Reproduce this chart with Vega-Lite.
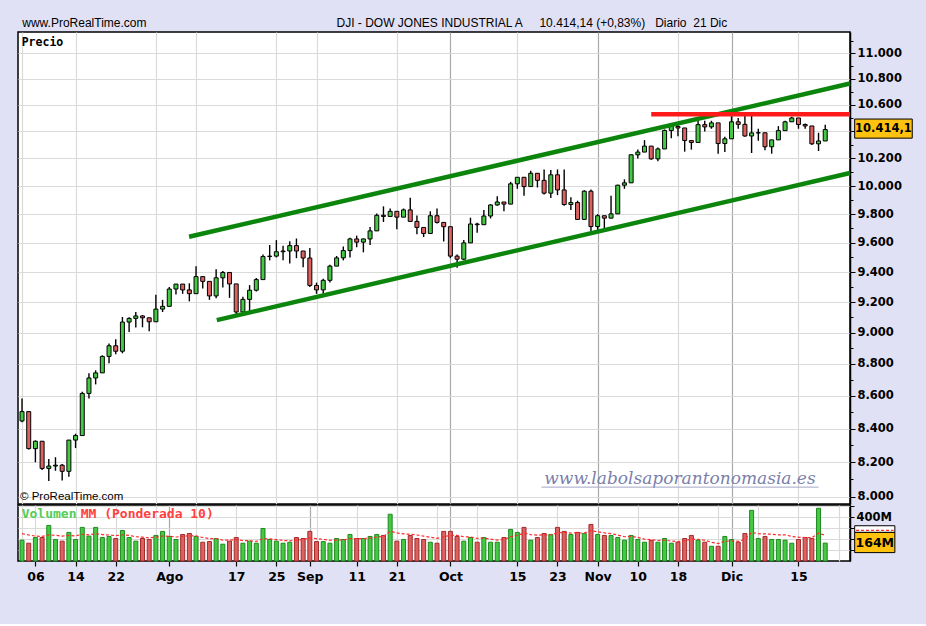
{
  "$schema": "https://vega.github.io/schema/vega-lite/v6.json",
  "background": "#e1e1f5",
  "padding": {"left": 17, "top": 17, "right": 14, "bottom": 40},
  "title": {
    "text": "www.ProRealTime.com\u00a0\u00a0\u00a0\u00a0\u00a0\u00a0\u00a0\u00a0\u00a0\u00a0\u00a0\u00a0\u00a0\u00a0\u00a0\u00a0\u00a0\u00a0\u00a0\u00a0\u00a0\u00a0\u00a0\u00a0\u00a0\u00a0\u00a0\u00a0\u00a0\u00a0\u00a0\u00a0\u00a0\u00a0\u00a0\u00a0\u00a0\u00a0\u00a0\u00a0\u00a0\u00a0\u00a0\u00a0\u00a0\u00a0\u00a0\u00a0\u00a0\u00a0\u00a0\u00a0\u00a0\u00a0\u00a0\u00a0\u00a0DJI - DOW JONES INDUSTRIAL A\u00a0\u00a0\u00a0\u00a0\u00a010.414,14 (+0,83%)\u00a0\u00a0\u00a0Diario\u00a0\u00a021 Dic",
    "anchor": "start",
    "dx": 5,
    "offset": 1,
    "font": "Liberation Sans",
    "fontSize": 12,
    "fontWeight": "normal",
    "color": "black"
  },
  "config": {
    "view": {"fill": "white", "stroke": "black", "strokeWidth": 1.5},
    "axis": {"labelOverlap": false, "labelFlush": false, "title": null}
  },
  "datasets": {
    "dji": [
      {"i":0,"d":"2009-07-01","o":8447,"h":8585,"l":8440,"c":8504,"v":191,"ma":250},
      {"i":1,"d":"2009-07-02","o":8504,"h":8504,"l":8275,"c":8281,"v":163,"ma":238},
      {"i":2,"d":"2009-07-06","o":8281,"h":8330,"l":8200,"c":8325,"v":215,"ma":228},
      {"i":3,"d":"2009-07-07","o":8325,"h":8325,"l":8155,"c":8164,"v":215,"ma":225},
      {"i":4,"d":"2009-07-08","o":8164,"h":8220,"l":8090,"c":8178,"v":326,"ma":240},
      {"i":5,"d":"2009-07-09","o":8178,"h":8230,"l":8150,"c":8183,"v":197,"ma":235},
      {"i":6,"d":"2009-07-10","o":8183,"h":8190,"l":8093,"c":8147,"v":182,"ma":228},
      {"i":7,"d":"2009-07-13","o":8147,"h":8332,"l":8115,"c":8332,"v":262,"ma":235},
      {"i":8,"d":"2009-07-14","o":8332,"h":8370,"l":8284,"c":8359,"v":197,"ma":230},
      {"i":9,"d":"2009-07-15","o":8359,"h":8626,"l":8359,"c":8616,"v":308,"ma":245},
      {"i":10,"d":"2009-07-16","o":8616,"h":8741,"l":8585,"c":8712,"v":228,"ma":240},
      {"i":11,"d":"2009-07-17","o":8712,"h":8760,"l":8672,"c":8744,"v":308,"ma":250},
      {"i":12,"d":"2009-07-20","o":8744,"h":8855,"l":8744,"c":8848,"v":215,"ma":242},
      {"i":13,"d":"2009-07-21","o":8848,"h":8930,"l":8805,"c":8916,"v":225,"ma":238},
      {"i":14,"d":"2009-07-22","o":8916,"h":8957,"l":8862,"c":8881,"v":206,"ma":232},
      {"i":15,"d":"2009-07-23","o":8881,"h":9102,"l":8868,"c":9069,"v":280,"ma":240},
      {"i":16,"d":"2009-07-24","o":9069,"h":9100,"l":9004,"c":9093,"v":215,"ma":235},
      {"i":17,"d":"2009-07-27","o":9093,"h":9135,"l":9033,"c":9109,"v":182,"ma":222},
      {"i":18,"d":"2009-07-28","o":9109,"h":9115,"l":9035,"c":9097,"v":206,"ma":218},
      {"i":19,"d":"2009-07-29","o":9097,"h":9097,"l":9010,"c":9071,"v":197,"ma":212},
      {"i":20,"d":"2009-07-30","o":9071,"h":9248,"l":9071,"c":9154,"v":234,"ma":218},
      {"i":21,"d":"2009-07-31","o":9154,"h":9215,"l":9135,"c":9172,"v":271,"ma":228},
      {"i":22,"d":"2009-08-03","o":9172,"h":9300,"l":9172,"c":9287,"v":225,"ma":226},
      {"i":23,"d":"2009-08-04","o":9287,"h":9320,"l":9250,"c":9320,"v":197,"ma":220},
      {"i":24,"d":"2009-08-05","o":9320,"h":9320,"l":9255,"c":9281,"v":243,"ma":226},
      {"i":25,"d":"2009-08-06","o":9281,"h":9325,"l":9205,"c":9256,"v":252,"ma":232},
      {"i":26,"d":"2009-08-07","o":9256,"h":9440,"l":9256,"c":9370,"v":225,"ma":230},
      {"i":27,"d":"2009-08-10","o":9370,"h":9370,"l":9290,"c":9338,"v":172,"ma":215},
      {"i":28,"d":"2009-08-11","o":9338,"h":9338,"l":9215,"c":9241,"v":178,"ma":205},
      {"i":29,"d":"2009-08-12","o":9241,"h":9420,"l":9225,"c":9362,"v":206,"ma":205},
      {"i":30,"d":"2009-08-13","o":9362,"h":9408,"l":9297,"c":9398,"v":154,"ma":192},
      {"i":31,"d":"2009-08-14","o":9398,"h":9398,"l":9228,"c":9321,"v":182,"ma":190},
      {"i":32,"d":"2009-08-17","o":9321,"h":9321,"l":9120,"c":9135,"v":215,"ma":196},
      {"i":33,"d":"2009-08-18","o":9135,"h":9235,"l":9135,"c":9218,"v":163,"ma":188},
      {"i":34,"d":"2009-08-19","o":9218,"h":9313,"l":9140,"c":9279,"v":182,"ma":186},
      {"i":35,"d":"2009-08-20","o":9279,"h":9360,"l":9270,"c":9350,"v":163,"ma":180},
      {"i":36,"d":"2009-08-21","o":9350,"h":9520,"l":9350,"c":9506,"v":298,"ma":205},
      {"i":37,"d":"2009-08-24","o":9506,"h":9585,"l":9480,"c":9509,"v":197,"ma":202},
      {"i":38,"d":"2009-08-25","o":9509,"h":9619,"l":9500,"c":9539,"v":182,"ma":196},
      {"i":39,"d":"2009-08-26","o":9539,"h":9580,"l":9480,"c":9544,"v":163,"ma":188},
      {"i":40,"d":"2009-08-27","o":9544,"h":9611,"l":9459,"c":9581,"v":172,"ma":185},
      {"i":41,"d":"2009-08-28","o":9581,"h":9630,"l":9495,"c":9544,"v":215,"ma":192},
      {"i":42,"d":"2009-08-31","o":9544,"h":9544,"l":9433,"c":9496,"v":206,"ma":195},
      {"i":43,"d":"2009-09-01","o":9496,"h":9565,"l":9300,"c":9311,"v":271,"ma":212},
      {"i":44,"d":"2009-09-02","o":9311,"h":9330,"l":9255,"c":9281,"v":178,"ma":205},
      {"i":45,"d":"2009-09-03","o":9281,"h":9355,"l":9255,"c":9345,"v":178,"ma":198},
      {"i":46,"d":"2009-09-04","o":9345,"h":9450,"l":9330,"c":9441,"v":163,"ma":190},
      {"i":47,"d":"2009-09-08","o":9441,"h":9510,"l":9441,"c":9497,"v":206,"ma":192},
      {"i":48,"d":"2009-09-09","o":9497,"h":9575,"l":9480,"c":9547,"v":197,"ma":193},
      {"i":49,"d":"2009-09-10","o":9547,"h":9635,"l":9500,"c":9627,"v":243,"ma":205},
      {"i":50,"d":"2009-09-11","o":9627,"h":9650,"l":9570,"c":9605,"v":206,"ma":205},
      {"i":51,"d":"2009-09-14","o":9605,"h":9630,"l":9535,"c":9627,"v":206,"ma":205},
      {"i":52,"d":"2009-09-15","o":9627,"h":9710,"l":9585,"c":9683,"v":225,"ma":210},
      {"i":53,"d":"2009-09-16","o":9683,"h":9805,"l":9683,"c":9792,"v":243,"ma":220},
      {"i":54,"d":"2009-09-17","o":9792,"h":9855,"l":9745,"c":9784,"v":234,"ma":224},
      {"i":55,"d":"2009-09-18","o":9784,"h":9840,"l":9784,"c":9820,"v":428,"ma":272},
      {"i":56,"d":"2009-09-21","o":9820,"h":9820,"l":9695,"c":9779,"v":182,"ma":258},
      {"i":57,"d":"2009-09-22","o":9779,"h":9840,"l":9779,"c":9830,"v":197,"ma":248},
      {"i":58,"d":"2009-09-23","o":9830,"h":9917,"l":9745,"c":9749,"v":234,"ma":246},
      {"i":59,"d":"2009-09-24","o":9749,"h":9790,"l":9660,"c":9707,"v":206,"ma":238},
      {"i":60,"d":"2009-09-25","o":9707,"h":9707,"l":9640,"c":9665,"v":197,"ma":228},
      {"i":61,"d":"2009-09-28","o":9665,"h":9820,"l":9665,"c":9789,"v":172,"ma":218},
      {"i":62,"d":"2009-09-29","o":9789,"h":9840,"l":9735,"c":9742,"v":163,"ma":208},
      {"i":63,"d":"2009-09-30","o":9742,"h":9742,"l":9609,"c":9712,"v":271,"ma":222},
      {"i":64,"d":"2009-10-01","o":9712,"h":9712,"l":9495,"c":9509,"v":271,"ma":236},
      {"i":65,"d":"2009-10-02","o":9509,"h":9520,"l":9430,"c":9488,"v":225,"ma":234},
      {"i":66,"d":"2009-10-05","o":9488,"h":9620,"l":9480,"c":9600,"v":182,"ma":222},
      {"i":67,"d":"2009-10-06","o":9600,"h":9775,"l":9600,"c":9731,"v":215,"ma":220},
      {"i":68,"d":"2009-10-07","o":9731,"h":9740,"l":9670,"c":9726,"v":172,"ma":208},
      {"i":69,"d":"2009-10-08","o":9726,"h":9830,"l":9726,"c":9787,"v":215,"ma":210},
      {"i":70,"d":"2009-10-09","o":9787,"h":9870,"l":9770,"c":9865,"v":172,"ma":200},
      {"i":71,"d":"2009-10-12","o":9865,"h":9927,"l":9860,"c":9886,"v":172,"ma":192},
      {"i":72,"d":"2009-10-13","o":9886,"h":9886,"l":9820,"c":9871,"v":215,"ma":198},
      {"i":73,"d":"2009-10-14","o":9871,"h":10030,"l":9871,"c":10016,"v":289,"ma":222},
      {"i":74,"d":"2009-10-15","o":10016,"h":10063,"l":9980,"c":10063,"v":262,"ma":234},
      {"i":75,"d":"2009-10-16","o":10063,"h":10063,"l":9930,"c":9996,"v":308,"ma":256},
      {"i":76,"d":"2009-10-19","o":9996,"h":10110,"l":9996,"c":10092,"v":191,"ma":242},
      {"i":77,"d":"2009-10-20","o":10092,"h":10092,"l":9990,"c":10041,"v":215,"ma":236},
      {"i":78,"d":"2009-10-21","o":10041,"h":10120,"l":9940,"c":9949,"v":252,"ma":240},
      {"i":79,"d":"2009-10-22","o":9949,"h":10115,"l":9915,"c":10081,"v":243,"ma":240},
      {"i":80,"d":"2009-10-23","o":10081,"h":10120,"l":9935,"c":9972,"v":308,"ma":258},
      {"i":81,"d":"2009-10-26","o":9972,"h":10120,"l":9860,"c":9868,"v":271,"ma":262},
      {"i":82,"d":"2009-10-27","o":9868,"h":9920,"l":9830,"c":9882,"v":243,"ma":256},
      {"i":83,"d":"2009-10-28","o":9882,"h":9895,"l":9763,"c":9763,"v":262,"ma":258},
      {"i":84,"d":"2009-10-29","o":9763,"h":9970,"l":9763,"c":9963,"v":252,"ma":256},
      {"i":85,"d":"2009-10-30","o":9963,"h":9975,"l":9680,"c":9713,"v":335,"ma":278},
      {"i":86,"d":"2009-11-02","o":9713,"h":9800,"l":9680,"c":9789,"v":243,"ma":268},
      {"i":87,"d":"2009-11-03","o":9789,"h":9789,"l":9700,"c":9772,"v":234,"ma":258},
      {"i":88,"d":"2009-11-04","o":9772,"h":9930,"l":9772,"c":9802,"v":234,"ma":250},
      {"i":89,"d":"2009-11-05","o":9802,"h":10010,"l":9802,"c":10006,"v":215,"ma":238},
      {"i":90,"d":"2009-11-06","o":10006,"h":10048,"l":9980,"c":10023,"v":191,"ma":222},
      {"i":91,"d":"2009-11-09","o":10023,"h":10230,"l":10023,"c":10227,"v":234,"ma":226},
      {"i":92,"d":"2009-11-10","o":10227,"h":10265,"l":10200,"c":10247,"v":197,"ma":216},
      {"i":93,"d":"2009-11-11","o":10247,"h":10335,"l":10247,"c":10291,"v":172,"ma":200},
      {"i":94,"d":"2009-11-12","o":10291,"h":10291,"l":10190,"c":10197,"v":188,"ma":196},
      {"i":95,"d":"2009-11-13","o":10197,"h":10280,"l":10180,"c":10270,"v":172,"ma":188},
      {"i":96,"d":"2009-11-16","o":10270,"h":10415,"l":10270,"c":10407,"v":206,"ma":192},
      {"i":97,"d":"2009-11-17","o":10407,"h":10460,"l":10350,"c":10437,"v":163,"ma":182},
      {"i":98,"d":"2009-11-18","o":10437,"h":10450,"l":10365,"c":10426,"v":172,"ma":178},
      {"i":99,"d":"2009-11-19","o":10426,"h":10426,"l":10250,"c":10332,"v":206,"ma":186},
      {"i":100,"d":"2009-11-20","o":10332,"h":10332,"l":10265,"c":10318,"v":234,"ma":200},
      {"i":101,"d":"2009-11-23","o":10318,"h":10480,"l":10318,"c":10451,"v":191,"ma":198},
      {"i":102,"d":"2009-11-24","o":10451,"h":10480,"l":10400,"c":10434,"v":172,"ma":190},
      {"i":103,"d":"2009-11-25","o":10434,"h":10480,"l":10420,"c":10464,"v":135,"ma":172},
      {"i":104,"d":"2009-11-27","o":10464,"h":10464,"l":10235,"c":10310,"v":135,"ma":160},
      {"i":105,"d":"2009-11-30","o":10310,"h":10360,"l":10248,"c":10345,"v":225,"ma":180},
      {"i":106,"d":"2009-12-01","o":10345,"h":10515,"l":10345,"c":10472,"v":197,"ma":185},
      {"i":107,"d":"2009-12-02","o":10472,"h":10500,"l":10420,"c":10453,"v":172,"ma":180},
      {"i":108,"d":"2009-12-03","o":10453,"h":10520,"l":10360,"c":10366,"v":252,"ma":198},
      {"i":109,"d":"2009-12-04","o":10366,"h":10520,"l":10240,"c":10389,"v":464,"ma":262},
      {"i":110,"d":"2009-12-07","o":10389,"h":10420,"l":10330,"c":10390,"v":206,"ma":250},
      {"i":111,"d":"2009-12-08","o":10390,"h":10390,"l":10260,"c":10286,"v":225,"ma":248},
      {"i":112,"d":"2009-12-09","o":10286,"h":10337,"l":10235,"c":10337,"v":197,"ma":245},
      {"i":113,"d":"2009-12-10","o":10337,"h":10440,"l":10337,"c":10406,"v":197,"ma":240},
      {"i":114,"d":"2009-12-11","o":10406,"h":10480,"l":10406,"c":10472,"v":191,"ma":240},
      {"i":115,"d":"2009-12-14","o":10472,"h":10510,"l":10472,"c":10501,"v":163,"ma":225},
      {"i":116,"d":"2009-12-15","o":10501,"h":10501,"l":10420,"c":10452,"v":197,"ma":218},
      {"i":117,"d":"2009-12-16","o":10452,"h":10460,"l":10420,"c":10441,"v":215,"ma":215},
      {"i":118,"d":"2009-12-17","o":10441,"h":10441,"l":10300,"c":10308,"v":206,"ma":213},
      {"i":119,"d":"2009-12-18","o":10308,"h":10390,"l":10255,"c":10329,"v":483,"ma":255},
      {"i":120,"d":"2009-12-21","o":10329,"h":10450,"l":10329,"c":10414,"v":164,"ma":235}
    ],
    "trend": [
      {"kind": "canal", "i1": 24.96, "p1": 9642, "i2": 123.7, "p2": 10764},
      {"kind": "canal", "i1": 29.1, "p1": 9082, "i2": 123.7, "p2": 10094},
      {"kind": "resistencia", "i1": 94.0, "p1": 10529, "i2": 123.7, "p2": 10529}
    ]
  },
  "data": {"name": "dji"},
  "spacing": -4,
  "vconcat": [
    {
      "width": 832,
      "height": 472,
      "layer": [
        {
          "mark": {"type": "rule", "color": "black", "strokeWidth": 1.4},
          "encoding": {
            "x": {
              "field": "i", "type": "quantitative",
              "scale": {"domain": [-0.6, 123.7], "nice": false, "zero": false, "padding": 0},
              "axis": {
                "values": [0,2,8,14,20,22,26,32,38,43,44,50,56,62,64,68,74,80,86,92,98,104,106,110,116,122],
                "labels": false, "ticks": false, "domain": false, "grid": true,
                "gridColor": {"condition": {"test": "indexof([22,43,64,86,106], datum.value) >= 0", "value": "#a9a9a9"}, "value": "#dadada"},
                "gridWidth": 1.2
              }
            },
            "y": {
              "field": "l", "type": "quantitative",
              "scale": {"type": "log", "domain": [7958, 11170], "nice": false},
              "axis": {
                "orient": "right",
                "values": [8000,8100,8200,8300,8400,8500,8600,8700,8800,8900,9000,9100,9200,9300,9400,9500,9600,9700,9800,9900,10000,10100,10200,10300,10400,10500,10600,10700,10800,10900,11000,11100],
                "labelExpr": "datum.value % 200 == 0 && datum.value != 10400 ? replace(format(datum.value, ','), ',', '.') : ''",
                "grid": true,
                "gridColor": "#dadada",
                "gridWidth": 1.2,
                "gridOpacity": {"condition": {"test": "datum.value % 200 == 0", "value": 1}, "value": 0},
                "tickSize": {"condition": {"test": "datum.value % 200 == 0", "value": 5}, "value": 3},
                "tickColor": "black",
                "domainColor": "black",
                "domainWidth": 1.5,
                "labelFont": "DejaVu Sans",
                "labelFontWeight": "bold",
                "labelFontSize": 11.5,
                "labelColor": "black",
                "labelPadding": 2
              }
            },
            "y2": {"field": "h"}
          }
        },
        {
          "mark": {"type": "bar", "size": 4, "stroke": "black", "strokeWidth": 1},
          "encoding": {
            "x": {"field": "i", "type": "quantitative"},
            "y": {"field": "o", "type": "quantitative"},
            "y2": {"field": "c"},
            "fill": {"condition": {"test": "datum.c >= datum.o", "value": "#45c945"}, "value": "#dc6262"}
          }
        },
        {
          "data": {"name": "trend"},
          "mark": {"type": "rule", "strokeWidth": 4.5},
          "encoding": {
            "x": {"field": "i1", "type": "quantitative"},
            "y": {"field": "p1", "type": "quantitative"},
            "x2": {"field": "i2"},
            "y2": {"field": "p2"},
            "color": {"field": "kind", "type": "nominal", "scale": {"domain": ["canal", "resistencia"], "range": ["#0b850b", "#ff1a1a"]}, "legend": null}
          }
        },
        {
          "data": {"values": [{}]},
          "mark": {"type": "text", "text": "Precio", "align": "left", "baseline": "middle", "font": "DejaVu Sans Mono", "fontWeight": "bold", "fontSize": 11.5, "color": "black"},
          "encoding": {"x": {"datum": -0.05}, "y": {"datum": 11084}}
        },
        {
          "data": {"values": [{}]},
          "mark": {"type": "text", "text": "© ProRealTime.com", "align": "left", "baseline": "middle", "font": "Liberation Sans", "fontSize": 11.5, "color": "black"},
          "encoding": {"x": {"datum": -0.3}, "y": {"datum": 7996}}
        },
        {
          "data": {"values": [{}]},
          "mark": {"type": "text", "text": "www.labolsaporantonomasia.es", "align": "center", "baseline": "middle", "font": "DejaVu Serif", "fontStyle": "italic", "fontSize": 17, "color": "#7b80ab"},
          "encoding": {"x": {"datum": 98.3}, "y": {"datum": 8102}}
        },
        {
          "data": {"values": [{}]},
          "mark": {"type": "rule", "color": "#a3a6c6", "strokeWidth": 1},
          "encoding": {"x": {"datum": 77.6}, "x2": {"datum": 119.0}, "y": {"datum": 8055}}
        },
        {
          "data": {"values": [{}]},
          "mark": {"type": "rect", "fill": "#ffc20e", "stroke": "black", "strokeWidth": 1},
          "encoding": {"x": {"datum": 124.4}, "x2": {"datum": 133.0}, "y": {"datum": 10350}, "y2": {"datum": 10493}}
        },
        {
          "data": {"values": [{}]},
          "mark": {"type": "text", "text": "10.414,1", "align": "center", "baseline": "middle", "font": "DejaVu Sans", "fontWeight": "bold", "fontSize": 11.5, "color": "black"},
          "encoding": {"x": {"datum": 128.7}, "y": {"datum": 10420}}
        }
      ]
    },
    {
      "width": 832,
      "height": 56,
      "resolve": {"axis": {"x": "independent", "y": "independent"}},
      "layer": [
        {
          "mark": {"type": "bar", "size": 4, "strokeWidth": 1},
          "encoding": {
            "x": {
              "field": "i", "type": "quantitative",
              "scale": {"domain": [-0.6, 123.7], "nice": false, "zero": false, "padding": 0},
              "axis": {
                "orient": "bottom",
                "values": [0,2,8,14,20,22,26,32,38,43,44,50,56,62,64,68,74,80,86,92,98,104,106,110,116,122],
                "labels": false, "ticks": false, "domain": false, "grid": true,
                "gridColor": {"condition": {"test": "indexof([22,43,64,86,106], datum.value) >= 0", "value": "#a9a9a9"}, "value": "#dadada"},
                "gridWidth": 1.2
              }
            },
            "y": {
              "field": "v", "type": "quantitative",
              "scale": {"domain": [0, 513], "nice": false},
              "axis": {
                "orient": "right",
                "values": [100, 200, 300, 400, 500],
                "labels": false,
                "grid": true,
                "gridColor": "#dadada",
                "gridWidth": 1.2,
                "tickColor": "black",
                "tickSize": 4,
                "domainColor": "black",
                "domainWidth": 1.5
              }
            },
            "fill": {"condition": {"test": "datum.c >= datum.o", "value": "#45c945"}, "value": "#dc6262"},
            "stroke": {"condition": {"test": "datum.c >= datum.o", "value": "#1d8a1d"}, "value": "#a32a2a"}
          }
        },
        {
          "mark": {"type": "line", "color": "#ff2a2a", "strokeWidth": 1.2, "strokeDash": [3, 2]},
          "encoding": {
            "x": {
              "field": "i", "type": "quantitative",
              "axis": {
                "orient": "bottom",
                "values": [2,8,14,22,32,38,43,50,56,64,74,80,86,92,98,106,116],
                "labelExpr": "['06','14','22','Ago','17','25','Sep','11','21','Oct','15','23','Nov','10','18','Dic','15'][indexof([2,8,14,22,32,38,43,50,56,64,74,80,86,92,98,106,116], datum.value)]",
                "grid": false,
                "domain": false,
                "tickColor": "black",
                "tickSize": 5,
                "tickWidth": 1.2,
                "labelFont": "DejaVu Sans",
                "labelFontWeight": "bold",
                "labelFontSize": 12.5,
                "labelColor": "black",
                "labelPadding": 4
              }
            },
            "y": {
              "field": "ma", "type": "quantitative",
              "axis": {
                "orient": "right",
                "values": [400],
                "labelExpr": "'400M'",
                "grid": false,
                "ticks": false,
                "domain": false,
                "labelFont": "DejaVu Sans",
                "labelFontWeight": "bold",
                "labelFontSize": 11.5,
                "labelColor": "black",
                "labelPadding": 6
              }
            }
          }
        },
        {
          "data": {"values": [{}]},
          "mark": {"type": "text", "text": "Volumen", "align": "left", "baseline": "middle", "font": "DejaVu Sans Mono", "fontWeight": "bold", "fontSize": 13, "color": "#55cc55"},
          "encoding": {"x": {"datum": -0.05, "axis": null}, "y": {"datum": 430, "axis": null}}
        },
        {
          "data": {"values": [{}]},
          "mark": {"type": "text", "text": "MM (Ponderada 10)", "align": "left", "baseline": "middle", "font": "DejaVu Sans Mono", "fontWeight": "bold", "fontSize": 13, "color": "#ff4040"},
          "encoding": {"x": {"datum": 8.77, "axis": null}, "y": {"datum": 430, "axis": null}}
        },
        {
          "data": {"values": [{}]},
          "mark": {"type": "rect", "fill": "white", "stroke": "black", "strokeWidth": 1},
          "encoding": {"x": {"datum": 124.4, "axis": null}, "x2": {"datum": 130.4}, "y": {"datum": 262, "axis": null}, "y2": {"datum": 323}}
        },
        {
          "data": {"values": [{}]},
          "mark": {"type": "rule", "color": "#ff2a2a", "strokeWidth": 1.2, "strokeDash": [3, 2]},
          "encoding": {"x": {"datum": 124.6, "axis": null}, "x2": {"datum": 130.2}, "y": {"datum": 280, "axis": null}}
        },
        {
          "data": {"values": [{}]},
          "mark": {"type": "rect", "fill": "#ffc20e", "stroke": "black", "strokeWidth": 1},
          "encoding": {"x": {"datum": 124.4, "axis": null}, "x2": {"datum": 130.4}, "y": {"datum": 77, "axis": null}, "y2": {"datum": 262}}
        },
        {
          "data": {"values": [{}]},
          "mark": {"type": "text", "text": "164M", "align": "center", "baseline": "middle", "font": "DejaVu Sans", "fontWeight": "bold", "fontSize": 12.5, "color": "black"},
          "encoding": {"x": {"datum": 127.4, "axis": null}, "y": {"datum": 168, "axis": null}}
        }
      ]
    }
  ]
}
